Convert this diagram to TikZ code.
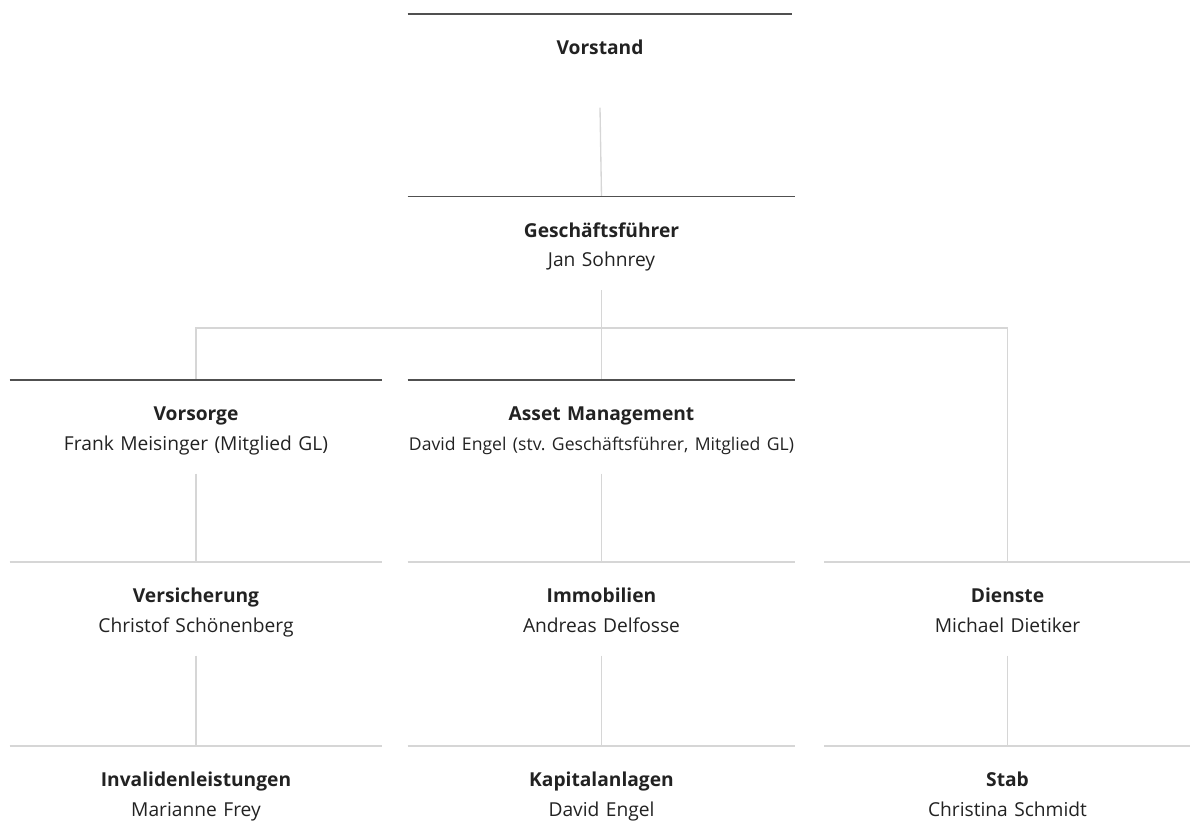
\documentclass[tikz,border=0pt]{standalone}
\usepackage{fontspec}
\setmainfont{Open Sans}
\usetikzlibrary{calc,positioning}
\definecolor{inkgray}{HTML}{222222}
\definecolor{rulegray}{HTML}{505050}
\definecolor{linkgray}{HTML}{D6D6D6}
\frenchspacing

\begin{document}
\begin{tikzpicture}[x=0.75pt, y=-0.75pt,
  unit/.style={anchor=north, inner sep=0pt, align=center, text width=#1,
    text height=30.5pt, text depth=39.4pt, font=\fontsize{14.4}{22}\selectfont, text=inkgray},
  toprule/.style={draw=rulegray, line width=1.3pt},
  softrule/.style={draw=linkgray, line width=1pt},
  link/.style={draw=linkgray, line width=1pt}]
  \useasboundingbox (0,0) rectangle (1190,821);

  \node[unit=288pt] (VS) at (600,14) {\textbf{Vorstand}};
  \node[unit=290.25pt] (GF) at (601.5,196.5) {\textbf{Geschäftsführer}\\Jan Sohnrey};

  \node[unit=279pt] (VO) at (196,380) {\textbf{Vorsorge}\\Frank Meisinger (Mitglied GL)};
  \node[unit=290.25pt] (AM) at (601.5,380) {\textbf{Asset Management}\\\makebox[0pt]{\fontsize{13.2}{22}\selectfont David Engel (stv. Geschäftsführer, Mitglied GL)}};

  \node[unit=279pt] (VE) at (196,562) {\textbf{Versicherung}\\Christof Schönenberg};
  \node[unit=290.25pt] (IM) at (601.5,562) {\textbf{Immobilien}\\Andreas Delfosse};
  \node[unit=274.5pt] (DI) at (1007.5,562) {\textbf{Dienste}\\Michael Dietiker};

  \node[unit=279pt] (IN) at (196,746) {\textbf{Invalidenleistungen}\\Marianne Frey};
  \node[unit=290.25pt] (KA) at (601.5,746) {\textbf{Kapitalanlagen}\\David Engel};
  \node[unit=274.5pt] (ST) at (1007.5,746) {\textbf{Stab}\\Christina Schmidt};

  % connectors
  \coordinate (bus) at (0,328);
  \draw[link] (VS.south) -- (GF.north);
  \draw[link] (GF.south) -- (AM.north);
  \draw[link] (VO.north) |- (bus -| DI.north) -- (DI.north);
  \draw[link] (VO.south) -- (VE.north);
  \draw[link] (AM.south) -- (IM.north);
  \draw[link] (VE.south) -- (IN.north);
  \draw[link] (IM.south) -- (KA.north);
  \draw[link] (DI.south) -- (ST.north);

  % rules on top of the units
  \foreach \n in {VS,GF,VO,AM}
    \draw[toprule] (\n.north west) -- (\n.north east);
  \foreach \n in {VE,IM,DI,IN,KA,ST}
    \draw[softrule] (\n.north west) -- (\n.north east);
\end{tikzpicture}
\end{document}
